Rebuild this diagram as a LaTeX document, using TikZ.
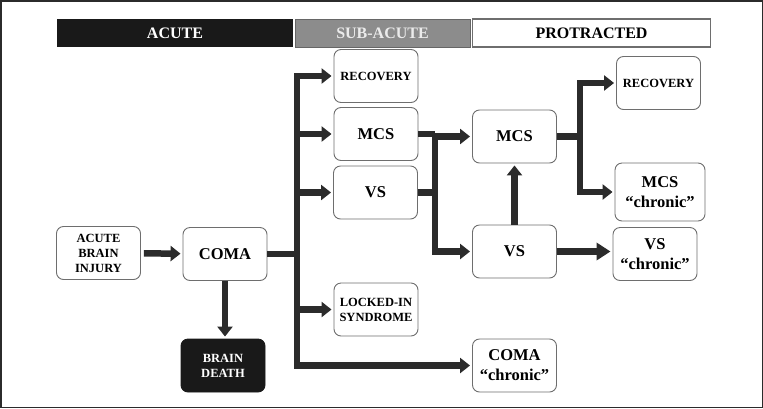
\documentclass[tikz,border=0pt]{standalone}
\usepackage{fontspec}
\setmainfont{Liberation Serif}
\usepackage{xcolor}
\usepackage{tikz}
\usetikzlibrary{arrows.meta}
\definecolor{linegray}{HTML}{2B2B2B}
\definecolor{boxgray}{HTML}{6E6E6E}
\definecolor{subgray}{HTML}{8C8C8C}
\tikzset{state/.style={draw=boxgray, line width=0.9pt, rounded corners=7pt, fill=white, align=center,
  minimum width=84pt, minimum height=53pt, inner sep=0pt, font=\fontsize{12.5}{15}\selectfont\bfseries},
big/.style={font=\fontsize{16.5}{20}\selectfont\bfseries},
phase/.style={minimum height=28pt, inner sep=0pt, font=\fontsize{16}{18}\selectfont\bfseries},
conn/.style={draw=linegray, line width=6.5pt},
arr/.style={conn, -{Triangle[length=10pt,width=15pt]}, shorten >=2pt}}

\begin{document}
\begin{tikzpicture}[x=1pt, y=-1pt]
\useasboundingbox (0,0) rectangle (763,408);
\draw[line width=1.5pt, draw=linegray] (0.75,0.75) rectangle (762.25,407.25);
% phase bars
\node[phase, fill=black!90, text=white, minimum width=236pt] (acute) at (175,33) {ACUTE};
\node[phase, fill=subgray, draw=black!60, line width=0.8pt, text=black!8, minimum width=175pt] (subacute) at (382.5,33) {SUB-ACUTE};
\node[phase, fill=white, draw=boxgray, line width=1.2pt, minimum width=238pt] (protracted) at (591.5,33) {PROTRACTED};
% acute
\node[state] (abi) at (98.5,253) {ACUTE\\BRAIN\\INJURY};
\node[state, big] (coma) at (225,254) {COMA};
\node[state, fill=black!90, draw=black!90, text=white] (death) at (223,365.5) {BRAIN\\DEATH};
% sub-acute
\node[state] (rec1) at (376,76) {RECOVERY};
\node[state, big] (mcs1) at (376,134) {MCS};
\node[state, big] (vs1) at (375.5,192.5) {VS};
\node[state] (lis) at (376,309.5) {LOCKED-IN\\SYNDROME};
\node[state, big] (comac) at (514.5,365.5) {COMA\\“chronic”};
% protracted
\node[state, big] (mcs2) at (514.5,136.5) {MCS};
\node[state, big] (vs2) at (514.5,251.5) {VS};
\node[state] (rec2) at (658.5,83) {RECOVERY};
\node[state, big, minimum width=90pt, minimum height=58pt] (mcsc) at (660,192) {MCS\\“chronic”};
\node[state, big] (vsc) at (655,254) {VS\\“chronic”};
\coordinate (t1) at (297,0);
\coordinate (t2) at (435,0);
\coordinate (t3) at (580,0);

\draw[arr, shorten <=3pt] (abi) -- (coma);
\draw[arr, shorten <=0pt] (coma.south) -- (coma.south |- death.north);
\draw[conn] (coma.east) -- (coma -| t1);
\draw[conn, line cap=rect] (rec1 -| t1) -- (comac -| t1);
\foreach \n in {rec1,mcs1,vs1,lis,comac}
  \draw[arr] (\n -| t1) -- (\n.west);

\draw[conn] (mcs1.east) -- (mcs1 -| t2);
\draw[conn] (vs1.east) -- (vs1 -| t2);
\draw[conn, line cap=rect] (mcs2 -| t2) -- (vs2 -| t2);
\draw[arr] (mcs2 -| t2) -- (mcs2.west);
\draw[arr] (vs2 -| t2) -- (vs2.west);
\draw[arr] (vs2.north) -- (mcs2.south);
\draw[arr, -{Triangle[length=14pt,width=17pt]}] (vs2.east) -- (vs2.east -| vsc.west);

\draw[conn] (mcs2.east) -- (mcs2 -| t3);
\draw[conn, line cap=rect] (rec2 -| t3) -- (mcsc -| t3);
\draw[arr] (rec2 -| t3) -- (rec2.west);
\draw[arr] (mcsc -| t3) -- (mcsc.west);
\end{tikzpicture}
\end{document}
